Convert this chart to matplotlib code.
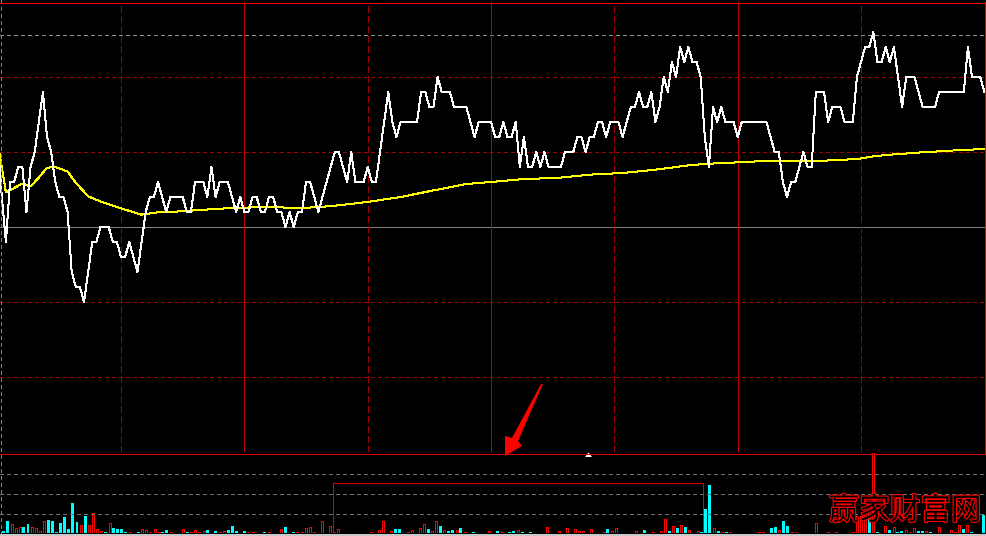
import matplotlib
matplotlib.use("Agg")
import matplotlib.pyplot as plt
import matplotlib.patheffects as pe
from matplotlib.patches import Polygon, Rectangle
from matplotlib.lines import Line2D

# ---------------- data (price in ticks relative to previous close) ----------------
price = [
    5.6, 2, -1, 3, 3, 4, 4, 1, 4, 5,
    7, 9, 6, 5, 3, 2, 2, 1, -3, -4,
    -4, -5, -3, -1, -1, 0, 0, 0, -1, -1,
    -2, -2, -1, -2, -3, -1, 1, 2, 2, 3,
    2, 1, 2, 2, 2, 2, 1, 1, 3, 3,
    3, 2, 4, 2, 3, 3, 3, 2, 1, 2,
    1, 1, 2, 2, 1, 1, 2, 2, 1, 1,
    0, 1, 0, 1, 1, 3, 3, 2, 1, 2,
    3, 4, 5, 5, 4, 3, 5, 3, 3, 3,
    4, 3, 3, 5, 7, 9, 7, 6, 7, 7,
    7, 7, 7, 9, 9, 8, 8, 10, 9, 9,
    9, 8, 8, 8, 8, 7, 6, 7, 7, 7,
    7, 6, 6, 7, 6, 6, 7, 4, 6, 4,
    4, 5, 4, 5, 4, 4, 4, 4, 5, 5,
    5, 6, 6, 5, 6, 6, 7, 7, 6, 7,
    7, 7, 6, 7, 8, 8, 9, 8, 8, 9,
    7, 8, 10, 9, 11, 10, 12, 11, 12, 11,
    11, 10, 6, 4, 8, 7, 8, 7, 7, 7,
    6, 7, 7, 7, 7, 7, 7, 7, 6, 5,
    5, 3, 2, 3, 3, 4, 5, 4, 4, 9,
    9, 9, 7, 8, 8, 8, 7, 7, 7, 10,
    11, 12, 12, 13, 11, 11, 12, 11, 12, 10,
    8, 10, 10, 10, 9, 8, 8, 8, 8, 9,
    9, 9, 9, 9, 9, 9, 12, 10, 10, 10,
    9,
]

avg_minute = [0, 2, 6, 8, 10, 12, 14, 17, 19, 22, 25, 28, 31, 35, 39, 43, 48, 53,
              57, 65, 74, 78, 82, 90, 98, 106, 114, 120, 128, 136, 144, 152, 160,
              168, 173, 177, 185, 193, 201, 209, 213, 217, 225, 233, 240]
avg_value = [5.6, 2.3, 2.9, 2.7, 3.3, 3.95, 4.0, 3.7, 2.95, 2.05, 1.7, 1.42, 1.16,
             0.82, 0.98, 1.02, 1.11, 1.2, 1.27, 1.33, 1.27, 1.33, 1.42, 1.67, 2.0,
             2.44, 2.87, 3.0, 3.2, 3.27, 3.49, 3.6, 3.82, 4.11, 4.22, 4.27, 4.38,
             4.4, 4.42, 4.53, 4.71, 4.82, 4.98, 5.11, 5.2]

# volume per minute and direction (1 = up/red, -1 = down/cyan, 0 = none)
volume = [
    2.3, 12.3, 9.3, 5.3, 6.3, 6.3, 9.3, 6.3, 5.3, 2.3,
    12.3, 13.3, 12.3, 1, 10.3, 16.3, 4.3, 30.3, 11.3, 8.3,
    17.3, 8.3, 20.3, 4.3, 2.3, 1, 10.3, 5.3, 4.3, 4.3,
    1, 1.3, 0, 0.7, 4.3, 3.3, 1.3, 4.3, 0.7, 1.3,
    3.3, 0.7, 0, 0.5, 4.3, 1.3, 1.3, 3.3, 0.7, 2.3,
    3.3, 0.5, 2.3, 1.3, 2.3, 3.3, 7.3, 2.3, 0, 2.3,
    1.3, 1.3, 0, 0, 1.3, 1.3, 0, 0.3, 4.3, 6.3,
    0.3, 1.3, 1.3, 1.3, 5.3, 6.3, 1.3, 0.3, 12.3, 0,
    7.3, 1.3, 4.3, 0, 0, 0, 0, 0, 0, 0,
    1.3, 0, 3.3, 12.3, 0, 2.3, 4.3, 4.3, 0, 1.3,
    3.3, 0, 5.3, 9.3, 4.3, 2.3, 12.3, 7.3, 3.3, 2.3,
    3.3, 3.3, 5.3, 1.3, 0, 1.3, 0, 0, 0, 2.3,
    0, 2.3, 1.3, 0, 1.3, 2.3, 3.3, 1.3, 0, 1.3,
    0, 0, 0, 6.3, 0, 0, 2.3, 0, 5.3, 0,
    4.3, 2.3, 2.3, 0, 4.3, 0, 0, 1.3, 4.3, 2.3,
    5.3, 0, 0, 0, 0, 2.3, 0, 3.3, 0, 1.3,
    0, 2.3, 14.3, 2.3, 7.3, 5.3, 8.3, 6.3, 3.3, 0,
    2.3, 1.3, 24.3, 48.3, 5.3, 2.3, 0.7, 1.3, 0.7, 0,
    0, 0, 0, 0, 0.3, 1.3, 1.3, 0.3, 5.3, 6.3,
    3.3, 12.3, 7.3, 1.3, 1.3, 0.3, 0.3, 0.3, 0, 10.3,
    0, 0, 1.3, 0.3, 1.3, 0, 0, 0, 1.3, 12.3,
    17.3, 20.3, 16.3, 95, 1.3, 0, 7.3, 3.3, 6.3, 1.3,
    2.3, 3.3, 0.7, 5.3, 2.3, 2.3, 2.3, 1.3, 0.3, 6.3,
    0.3, 0.3, 3.3, 1.3, 8.3, 4.3, 8.3, 0.7, 0, 0,
    18.3,
]
vol_dir = [
    -1, -1, 1, 1, 1, -1, -1, 1, 1, 1,
    1, -1, -1, -1, -1, -1, -1, -1, -1, 1,
    -1, 1, 1, 1, 1, -1, 1, -1, -1, -1,
    -1, 1, 0, -1, 1, 1, 1, 1, 1, -1,
    -1, 1, 0, 1, 1, -1, 1, 1, 1, 1,
    -1, 1, -1, 1, 1, -1, -1, -1, 0, -1,
    1, 1, 0, 0, -1, 1, 0, -1, 1, -1,
    1, -1, 1, 1, 1, 1, 1, -1, 1, 0,
    1, 1, 1, 0, 0, 0, 0, 0, 0, 0,
    1, 0, 1, 1, 0, 1, -1, -1, 0, 1,
    1, 0, 1, 1, -1, 1, 1, -1, 1, -1,
    -1, 1, -1, 1, 0, -1, 0, 0, 0, 1,
    0, -1, 1, 0, -1, -1, 1, -1, 0, -1,
    0, 0, 0, 1, 0, 0, 1, 0, 1, 0,
    1, 1, 1, 0, 1, 0, 0, 1, -1, 1,
    1, 0, 0, 0, 0, 1, 0, -1, 0, 1,
    0, 1, 1, -1, 1, -1, 1, -1, 1, 0,
    1, -1, -1, -1, 1, -1, 1, -1, 1, 0,
    0, 0, 0, 0, 1, 1, 1, 1, -1, -1,
    1, -1, -1, 1, 1, 1, 1, -1, 0, 1,
    0, 0, 1, 1, 1, 0, 0, 0, 1, 1,
    1, 1, -1, 1, -1, 0, 1, -1, 1, -1,
    -1, 1, 1, 1, -1, -1, 1, -1, 1, 1,
    1, 1, 1, 1, 1, -1, 1, -1, 0, 0,
    -1,
]

solid_minutes = [60, 120, 180]
dashed_minutes = [30, 90, 150, 210]
price_dash_levels = [10, 5, -5, -10]
high_ref = 12.8
vol_grid_levels = [19.5, 39.5, 59.5]
box_minutes = [80.7, 171.3]
box_level = 50
watermark = "赢家财富网"

# ---------------- figure ----------------
W, H = 986, 536
fig = plt.figure(figsize=(W / 100, H / 100), dpi=100, facecolor="black")
LW = 0.72  # 1 px

def fy(py):
    return 1 - py / H

DARKRED = "#a00000"
SOLIDRED = "#c00000"

# main price panel
ax = fig.add_axes([0, fy(452), 985 / W, 450 / H])
ax.set_xlim(0.56, 240.16)
ax.set_ylim(-15, 15)
ax.axis("off")

for lv in price_dash_levels:
    ax.axhline(lv, color=DARKRED, lw=LW, ls=(0, (4, 3)), antialiased=False)
ax.axhline(0, color="#808080", lw=LW, antialiased=False)
ax.axhline(high_ref, color="#8c8c8c", lw=LW, ls=(0, (4, 3)), antialiased=False)
for m in solid_minutes:
    ax.axvline(m, color=SOLIDRED, lw=LW, antialiased=False)
for m in dashed_minutes:
    ax.axvline(m, color=DARKRED, lw=LW, ls=(0, (6, 3)), antialiased=False)

ax.plot(avg_minute, avg_value, color="#ffff00", lw=LW, antialiased=False, zorder=3)
ax.plot(range(len(price)), price, color="white", lw=LW, antialiased=False, zorder=4)

# volume panel
vax = fig.add_axes([0, fy(533), 1, 80 / H])
vax.set_xlim(-0.857, 240.63)
vax.set_ylim(0, 80)
vax.axis("off")
for lv in vol_grid_levels:
    vax.axhline(lv, color="#707070", lw=LW, ls=(0, (3, 3)), antialiased=False)

up_x = [i for i, d in enumerate(vol_dir) if d == 1]
up_v = [volume[i] for i in up_x]
dn_x = [i for i, d in enumerate(vol_dir) if d == -1]
dn_v = [volume[i] for i in dn_x]
vax.bar(dn_x, dn_v, width=0.73, color="#00ffff", linewidth=0, antialiased=False)
vax.bar(up_x, up_v, width=0.49, facecolor="black", edgecolor="#ff0000",
        linewidth=LW, antialiased=False)
vax.add_patch(Rectangle((box_minutes[0], 0), box_minutes[1] - box_minutes[0], box_level,
                        fill=False, edgecolor="#dd0000", lw=LW, antialiased=False))

# overlay in pixel coordinates for frame & annotations
ov = fig.add_axes([0, 0, 1, 1], zorder=10)
ov.set_xlim(0, W)
ov.set_ylim(H, 0)
ov.axis("off")
ov.patch.set_alpha(0)
ov.add_line(Line2D([0, 985], [2.5, 2.5], color="#ff0000", lw=LW, antialiased=False))
ov.add_line(Line2D([984.5, 984.5], [2, 453], color="#e00000", lw=LW, antialiased=False))
ov.add_line(Line2D([0, W], [453.5, 453.5], color="#dd0000", lw=LW, antialiased=False))
ov.add_line(Line2D([0.5, 0.5], [0, 533], color="#808080", lw=LW, ls=(0, (3, 3)),
                   antialiased=False))
ov.add_patch(Rectangle((0, 533.5), W, 3, color="#c8c8c8", lw=0))

# red arrow
ov.add_patch(Polygon([(543, 384), (518, 441), (522, 446), (505, 456), (505, 436),
                      (512, 438), (541, 384)], closed=True, color="#ff0000", lw=0))
# small white marker at the panel divider
ov.add_patch(Polygon([(585, 457), (592, 457), (588.5, 452.5)], closed=True,
                     color="white", lw=0))

ov.text(905, 511, watermark, color="black", fontsize=22,
        family=["Noto Sans CJK SC", "DejaVu Sans"],
        ha="center", va="center",
        path_effects=[pe.withStroke(linewidth=1.6, foreground="#ff0000")])

fig.savefig("out.png", dpi=100, facecolor="black")
